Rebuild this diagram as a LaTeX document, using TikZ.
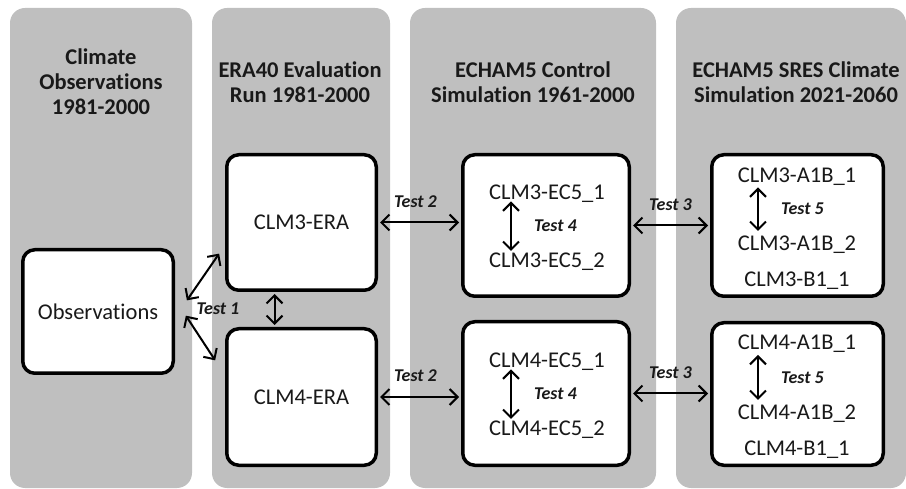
\documentclass[tikz,border=0pt]{standalone}
\usepackage{fontspec}
\setmainfont{Carlito}[Ligatures=NoCommon]
\usetikzlibrary{arrows.meta, positioning}
\definecolor{colgrey}{RGB}{191,191,191}
\tikzset{
    flowchart/.style={x=1pt, y=-1pt, font=\fontsize{22.5}{25}\selectfont, text=black!90},
    period/.style={fill=colgrey, rounded corners=15pt},
    heading/.style={align=center, inner sep=0pt, font=\fontsize{22.5}{25}\selectfont\bfseries},
    model/.style={draw, line width=3.5pt, rounded corners=12pt, fill=white, inner sep=0pt},
    entry/.style={inner sep=0pt, text height=14.5pt, text depth=0pt},
    testlbl/.style={font=\fontsize{18}{20}\selectfont\bfseries\itshape, inner sep=0pt},
    link/.style={<->, line width=2pt, >={Straight Barb[length=8pt,width=16pt]},
        shorten <=2pt, shorten >=2pt},
}
\begin{document}
\begin{tikzpicture}[flowchart]
    \useasboundingbox (0,0) rectangle (906,489);

    % time periods
    \fill[period] (10,8)  rectangle (192,488);
    \fill[period] (212,8) rectangle (390,488);
    \fill[period] (410,8) rectangle (656,488);
    \fill[period] (676,8) rectangle (906,488);

    \node[heading] (hobs)  at (101,82) {Climate\\Observations\\1981-2000};
    \node[heading] (hera)  at (300,82) {ERA40 Evaluation\\Run 1981-2000};
    \node[heading] (hctl)  at (533,82) {ECHAM5 Control\\Simulation 1961-2000};
    \node[heading] (hsres) at (796,82) {ECHAM5 SRES Climate\\Simulation 2021-2060};

    % runs
    \node[model, minimum width=150.5pt, minimum height=123.5pt] (obs)   at (98,311.5)  {Observations};
    \node[model, minimum width=149.5pt, minimum height=135.5pt] (era3)  at (301.5,222.5) {CLM3-ERA};
    \node[model, minimum width=149.5pt, minimum height=136.5pt] (era4)  at (301.5,397)   {CLM4-ERA};
    \node[model, minimum width=166.5pt, minimum height=141.5pt] (ctl3)  at (546,225.5)   {};
    \node[model, minimum width=166.5pt, minimum height=143.5pt] (ctl4)  at (546,393.5)   {};
    \node[model, minimum width=171.5pt, minimum height=141.5pt] (sres3) at (797.5,225.5) {};
    \node[model, minimum width=171.5pt, minimum height=142.5pt] (sres4) at (797.5,394)   {};

    \node[entry] (ctl3a) at (547,192) {CLM3-EC5\_1};
    \node[entry, below=53.5pt of ctl3a] (ctl3b) {CLM3-EC5\_2};
    \node[entry] (ctl4a) at (547,360) {CLM4-EC5\_1};
    \node[entry, below=53.5pt of ctl4a] (ctl4b) {CLM4-EC5\_2};

    \node[entry] (sres3a) at (797,175) {CLM3-A1B\_1};
    \node[entry, below=53.5pt of sres3a] (sres3b) {CLM3-A1B\_2};
    \node[entry, below=20.5pt of sres3b] (sres3c) {CLM3-B1\_1};
    \node[entry] (sres4a) at (797,342) {CLM4-A1B\_1};
    \node[entry, below=55.5pt of sres4a] (sres4b) {CLM4-A1B\_2};
    \node[entry, below=20.5pt of sres4b] (sres4c) {CLM4-B1\_1};

    % tests
    \draw[link] ([xshift=10.75pt,yshift=9.5pt]obs.east) -- ([xshift=-4.75pt,yshift=-29.5pt]era3.west);
    \draw[link] ([xshift=9.75pt,yshift=-2.5pt]obs.east) -- ([xshift=-8.75pt,yshift=35pt]era4.west);
    \node[testlbl] (t1) at (218,309) {Test 1};
    \draw[link] ([xshift=-27pt]era3.south) -- ([xshift=-27pt]era4.north);

    \draw[link] (era3.east) -- node[testlbl, above=14pt, xshift=-4pt] (t2a) {Test 2} (era3.east -| ctl3.west);
    \draw[link] (era4.east) -- node[testlbl, above=14pt, xshift=-4pt] (t2b) {Test 2} (era4.east -| ctl4.west);
    \draw[link] (ctl3.east) -- node[testlbl, above=14pt] (t3a) {Test 3} (sres3.west);
    \draw[link] (ctl4.east) -- node[testlbl, above=14pt] (t3b) {Test 3} (ctl4.east -| sres4.west);

    \draw[link] ([xshift=-36pt]ctl3a.south) -- node[testlbl, right=22pt] (t4a) {Test 4} ([xshift=-36pt]ctl3b.north);
    \draw[link] ([xshift=-36pt]ctl4a.south) -- node[testlbl, right=22pt] (t4b) {Test 4} ([xshift=-36pt]ctl4b.north);
    \draw[link] ([xshift=-39pt,yshift=-3pt]sres3a.south) -- node[testlbl, right=22pt] (t5a) {Test 5} ([xshift=-39pt,yshift=3pt]sres3b.north);
    \draw[link] ([xshift=-39pt,yshift=-3.5pt]sres4a.south) -- node[testlbl, right=22pt] (t5b) {Test 5} ([xshift=-39pt,yshift=3pt]sres4b.north);
\end{tikzpicture}
\end{document}
